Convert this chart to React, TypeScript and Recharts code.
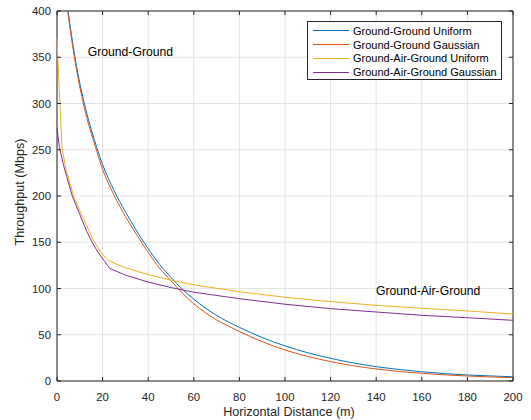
import {
  LineChart,
  Line,
  XAxis,
  YAxis,
  CartesianGrid,
  ReferenceArea,
  ReferenceDot,
  Label,
} from "recharts";

// horizontal distance (m) for the ground-ground curves
const ggDistance = [
  0, 2.5, 5, 7.5, 10, 12.5, 15, 17.5, 20, 25, 30, 35, 40, 45, 50, 55, 60, 65,
  70, 75, 80, 90, 100, 110, 120, 130, 140, 150, 160, 170, 180, 190, 200,
];
const ggUniform = [
  510, 450, 398, 356, 322, 295, 272, 252, 234, 206, 183, 162, 143, 126, 112,
  99, 88.5, 79, 71, 64, 58, 47, 38, 30.5, 24.5, 19.5, 15.5, 12.5, 10, 8, 6.5,
  5.5, 4.6,
];
const ggGaussian = [
  505, 445, 394, 352, 318, 290, 268, 248, 229, 201, 178, 158, 139, 122, 108.5,
  95, 83.5, 74, 66, 59.5, 53.5, 42.5, 33.5, 26.5, 21, 16.5, 13, 10.3, 8.3, 6.6,
  5.4, 4.4, 3.6,
];

const gagUniformDistance = [
  0, 1, 2.2, 4, 7.3, 10, 13, 16, 19, 21.9, 25, 30, 40, 50, 60, 80, 100, 120,
  140, 160, 180, 200,
];
const gagUniform = [
  370, 316, 252, 228, 200, 184, 168, 152, 140, 131.5, 127.5, 122.5, 115, 109,
  104, 96.5, 90.5, 85.8, 81.8, 78.6, 75.7, 72.4,
];

const gagGaussianDistance = [
  0, 1.1, 3, 6.7, 10, 13, 15.3, 18, 21, 23.1, 30, 40, 50, 60, 80, 100, 120, 140,
  160, 180, 200,
];
const gagGaussian = [
  273, 252, 232, 200, 180, 162, 150.5, 139, 129, 121.8, 114.5, 107, 101, 96, 89,
  83, 78.2, 74.6, 71, 68.4, 65.6,
];

const xTicks = [0, 20, 40, 60, 80, 100, 120, 140, 160, 180, 200];
const yTicks = [0, 50, 100, 150, 200, 250, 300, 350, 400];

const seriesNames = [
  "Ground-Ground Uniform",
  "Ground-Ground Gaussian",
  "Ground-Air-Ground Uniform",
  "Ground-Air-Ground Gaussian",
];
const colors = ["#0072BD", "#D95319", "#EDB120", "#7E2F8E"];
// ground-ground curves are smooth, ground-air-ground ones have a kink
const curveTypes = ["monotone", "monotone", "linear", "linear"] as const;

const toPoints = (xs: number[], ys: number[]) =>
  xs.map((x, i) => ({ x, y: ys[i] }));

const series = [
  toPoints(ggDistance, ggUniform),
  toPoints(ggDistance, ggGaussian),
  toPoints(gagUniformDistance, gagUniform),
  toPoints(gagGaussianDistance, gagGaussian),
];

const W = 531;
const H = 420;
const PLOT_LEFT = 57;
const PLOT_TOP = 11;
const PLOT_RIGHT = 513;
const PLOT_BOTTOM = 381;
const AXIS = "#262626";
const FONT = "'Liberation Sans', Arial, Helvetica, sans-serif";

function XTick(props: any) {
  const { x, payload } = props;
  return (
    <g>
      <line x1={x} x2={x} y1={PLOT_BOTTOM} y2={PLOT_BOTTOM - 4} stroke={AXIS} />
      <line x1={x} x2={x} y1={PLOT_TOP} y2={PLOT_TOP + 4} stroke={AXIS} />
      <text
        x={x}
        y={PLOT_BOTTOM + 20}
        textAnchor="middle"
        fontSize={11.4}
        fill={AXIS}
        fontFamily={FONT}
      >
        {payload.value}
      </text>
    </g>
  );
}

function YTick(props: any) {
  const { y, payload } = props;
  return (
    <g>
      <line x1={PLOT_LEFT} x2={PLOT_LEFT + 4} y1={y} y2={y} stroke={AXIS} />
      <line x1={PLOT_RIGHT} x2={PLOT_RIGHT - 4} y1={y} y2={y} stroke={AXIS} />
      <text
        x={PLOT_LEFT - 6}
        y={y + 4}
        textAnchor="end"
        fontSize={11.4}
        fill={AXIS}
        fontFamily={FONT}
      >
        {payload.value}
      </text>
    </g>
  );
}

export default function App() {
  return (
    <div
      style={{
        position: "absolute",
        left: 0,
        top: 0,
        width: W,
        height: H,
        background: "#fff",
        fontFamily: FONT,
      }}
    >
      <LineChart
        width={W}
        height={H}
        margin={{ top: PLOT_TOP, right: W - PLOT_RIGHT, bottom: 0, left: 0 }}
      >
        <CartesianGrid stroke="#e2e2e2" />
        <XAxis
          dataKey="x"
          type="number"
          domain={[0, 200]}
          ticks={xTicks}
          height={H - PLOT_BOTTOM}
          tickLine={false}
          axisLine={false}
          tick={<XTick />}
          interval={0}
        >
          <Label
            content={() => (
              <text
                x={289}
                y={416}
                textAnchor="middle"
                fontSize={12.6}
                fill={AXIS}
                fontFamily={FONT}
              >
                Horizontal Distance (m)
              </text>
            )}
          />
        </XAxis>
        <YAxis
          type="number"
          domain={[0, 400]}
          allowDataOverflow
          ticks={yTicks}
          width={PLOT_LEFT}
          tickLine={false}
          axisLine={false}
          tick={<YTick />}
          interval={0}
        >
          <Label
            content={() => (
              <text
                x={24}
                y={192}
                transform="rotate(-90 24 192)"
                textAnchor="middle"
                fontSize={12.6}
                fill={AXIS}
                fontFamily={FONT}
              >
                Throughput (Mbps)
              </text>
            )}
          />
        </YAxis>
        {series.map((data, i) => (
          <Line
            key={seriesNames[i]}
            data={data}
            dataKey="y"
            name={seriesNames[i]}
            stroke={colors[i]}
            strokeWidth={1}
            dot={false}
            activeDot={false}
            type={curveTypes[i]}
            isAnimationActive={false}
          />
        ))}
        <ReferenceArea
          x1={0}
          x2={200}
          y1={0}
          y2={400}
          fill="none"
          fillOpacity={0}
          stroke={AXIS}
          strokeWidth={1}
        />
        <ReferenceDot
          x={32.2}
          y={356}
          r={0}
          fill="none"
          stroke="none"
          label={{
            value: "Ground-Ground",
            position: "center",
            fontSize: 12.2,
            fill: "#000",
            fontFamily: FONT,
          }}
        />
        <ReferenceDot
          x={162.8}
          y={97.3}
          r={0}
          fill="none"
          stroke="none"
          label={{
            value: "Ground-Air-Ground",
            position: "center",
            fontSize: 12.2,
            fill: "#000",
            fontFamily: FONT,
          }}
        />
      </LineChart>
      <div
        style={{
          position: "absolute",
          left: 307,
          top: 21,
          width: 195,
          height: 59,
          border: `1px solid ${AXIS}`,
          background: "#fff",
          boxSizing: "border-box",
          paddingTop: 2,
        }}
      >
        {seriesNames.map((name, i) => (
          <div
            key={name}
            style={{
              display: "flex",
              alignItems: "center",
              height: 13.8,
              fontSize: 11,
              color: "#000",
              whiteSpace: "nowrap",
            }}
          >
            <span
              style={{
                display: "inline-block",
                marginLeft: 5,
                width: 36,
                height: 0,
                borderTop: `1px solid ${colors[i]}`,
                marginRight: 4,
              }}
            />
            {name}
          </div>
        ))}
      </div>
    </div>
  );
}
